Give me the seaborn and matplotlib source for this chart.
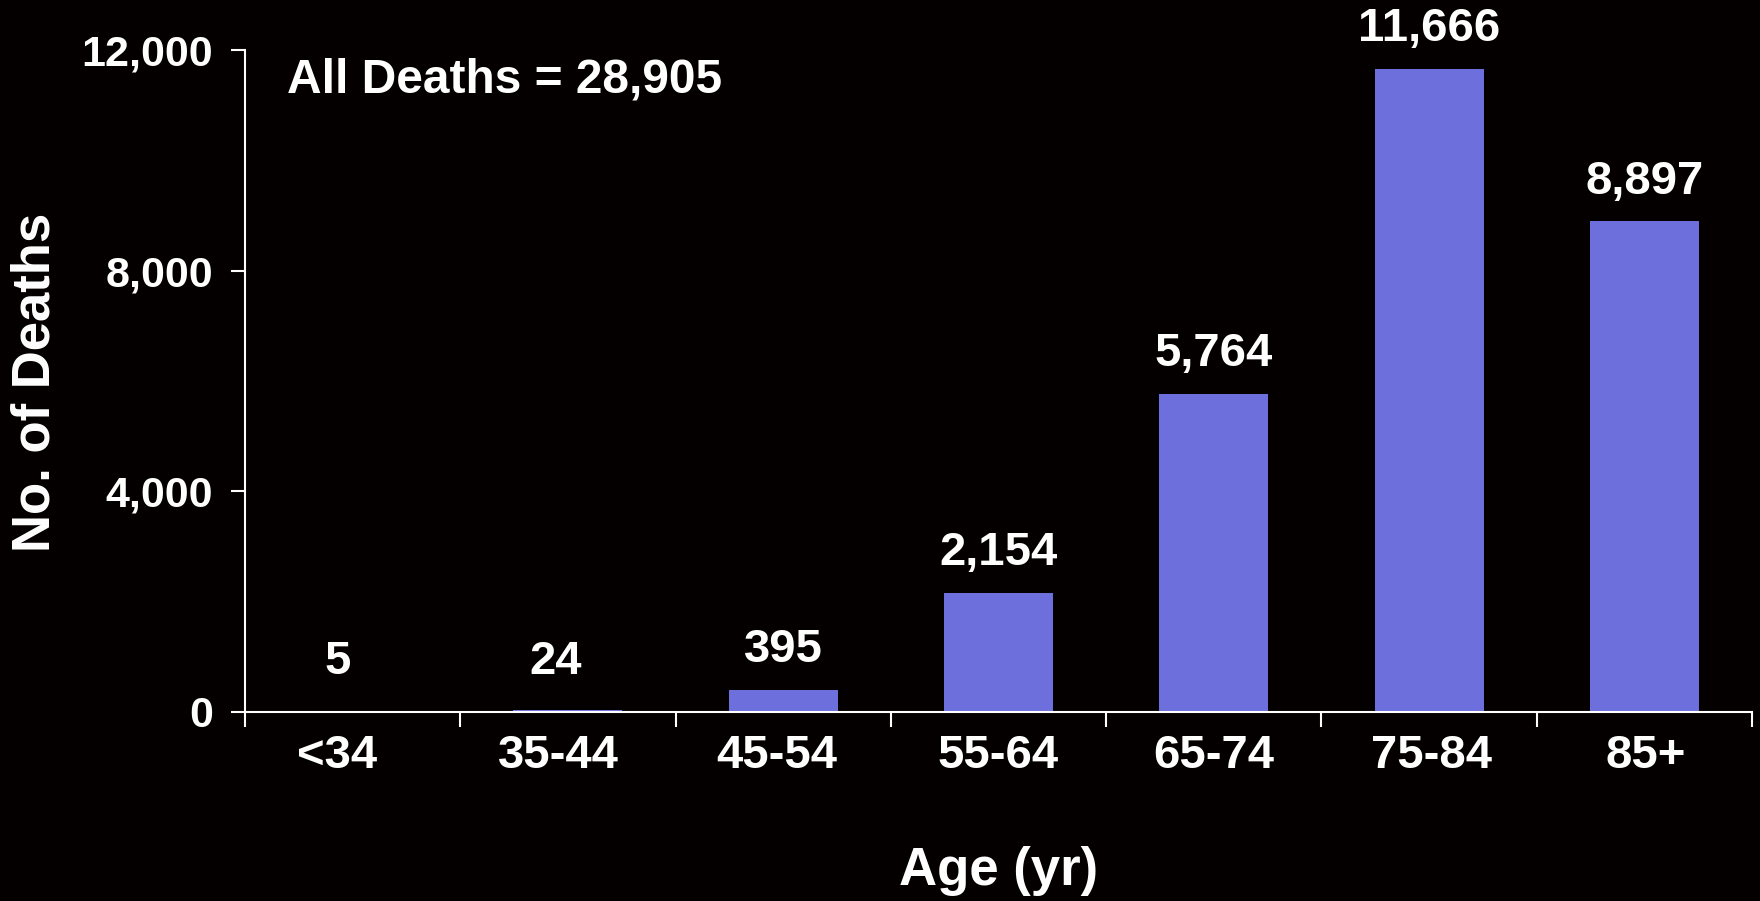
import matplotlib
matplotlib.use("Agg")
import matplotlib.pyplot as plt
from matplotlib.ticker import FuncFormatter, FixedLocator
from matplotlib.transforms import ScaledTranslation
import seaborn as sns
import pandas as pd

# Deaths by age group
age_groups = ["<34", "35-44", "45-54", "55-64", "65-74", "75-84", "85+"]
deaths = [5, 24, 395, 2154, 5764, 11666, 8897]
y_ticks = [0, 4000, 8000, 12000]
total_text = "All Deaths = 28,905"

# Horizontal nudges (points) for value labels and group labels
value_nudge = [-11, -9, 0, 0, 0, 0, 0]
group_nudge = [-11, -7, -5, 0, 0, 2, 1]

BG = "#050000"
BAR = "#6C6FDC"
FG = "white"

sns.set_theme(style="ticks")
plt.rcParams["font.family"] = ["Liberation Sans", "DejaVu Sans"]
plt.rcParams["font.weight"] = "bold"

df = pd.DataFrame({"age": age_groups, "deaths": deaths})

fig = plt.figure(figsize=(17.6, 9.01), dpi=100, facecolor=BG)
ax = fig.add_axes([0.1392, 0.2102, 0.8563, 0.7338], facecolor=BG)

sns.barplot(data=df, x="age", y="deaths", color=BAR, width=0.506,
            saturation=1, ax=ax, edgecolor="none")

ax.set_xlim(-0.5, len(age_groups) - 0.5)
ax.set_ylim(0, 12000)

# Spines
for side in ("top", "right"):
    ax.spines[side].set_visible(False)
for side in ("left", "bottom"):
    ax.spines[side].set_color(FG)
    ax.spines[side].set_linewidth(1.5)

# Y axis ticks
ax.yaxis.set_major_locator(FixedLocator(y_ticks))
ax.yaxis.set_major_formatter(FuncFormatter(lambda v, p: f"{int(v):,}"))
ax.tick_params(axis="y", colors=FG, length=10, width=1.5, pad=13,
               labelsize=31, direction="out")

# X axis: labels at category centres, tick marks at category boundaries
ax.tick_params(axis="x", which="major", length=0, pad=16, colors=FG,
               labelsize=34)
ax.xaxis.set_minor_locator(FixedLocator([i - 0.5 for i in range(len(age_groups) + 1)]))
ax.tick_params(axis="x", which="minor", length=11, width=1.5, color=FG,
               direction="out")
for lbl in ax.get_xticklabels() + ax.get_yticklabels():
    lbl.set_fontweight("bold")
    lbl.set_color(FG)
for lbl, dx in zip(ax.get_xticklabels(), group_nudge):
    lbl.set_transform(lbl.get_transform()
                      + ScaledTranslation(dx / 72, 0, fig.dpi_scale_trans))

ax.set_xlabel("Age (yr)", fontsize=38, fontweight="bold", color=FG, va="center")
ax.xaxis.set_label_coords(0.5, -0.241)
ax.set_ylabel("No. of Deaths", fontsize=38, fontweight="bold", color=FG, va="center")
ax.yaxis.set_label_coords(-0.1387, 0.4986)

# Value labels above bars
for i, (v, dx) in enumerate(zip(deaths, value_nudge)):
    ax.annotate(f"{v:,}", xy=(i, max(v, 180)), xytext=(dx, 20),
                textcoords="offset points", ha="center", va="baseline",
                fontsize=34, fontweight="bold", color=FG)

ax.text(0.028, 0.955, total_text, transform=ax.transAxes, ha="left",
        va="center", fontsize=34.5, fontweight="bold", color=FG)

fig.savefig("out.png", dpi=100, facecolor=BG)
